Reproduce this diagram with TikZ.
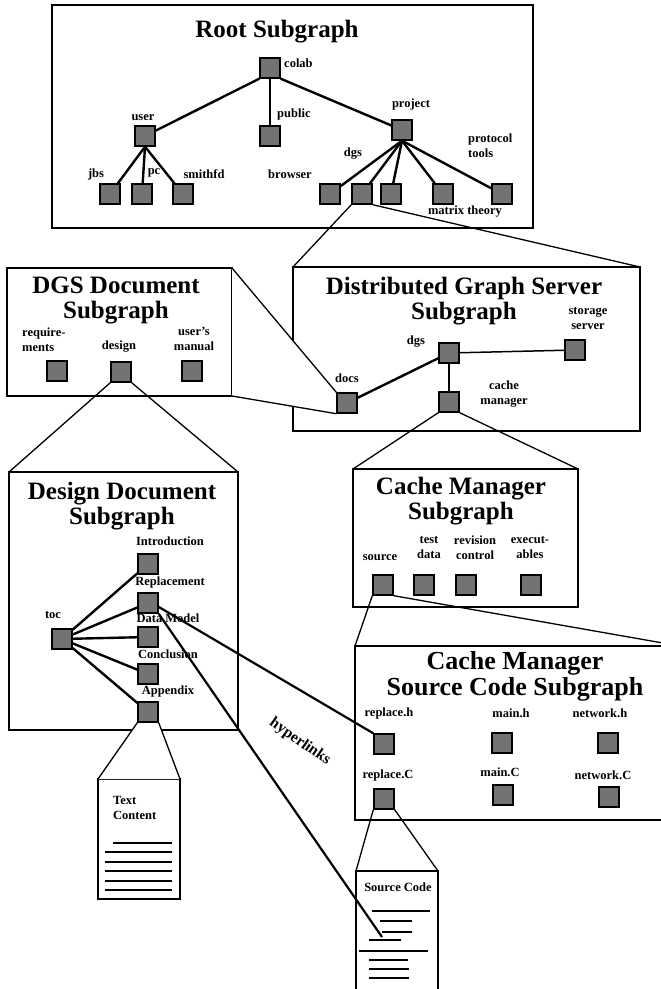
\documentclass[tikz,border=0pt]{standalone}
\usepackage{fontspec}
\setmainfont{Liberation Serif}

\pgfdeclarelayer{panels}
\pgfdeclarelayer{zoom}
\pgfsetlayers{panels,zoom,main}

\tikzset{
  panel/.style={draw, line width=1.4pt, fill=white, inner sep=0pt, outer sep=0pt},
  vertex/.style={draw, line width=1.4pt, fill=black!55, minimum size=20pt, inner sep=0pt},
  name tag/.style={font=\fontsize{12.5}{15}\selectfont\bfseries, inner sep=0pt, align=center},
  heading/.style={font=\fontsize{25}{25}\selectfont\bfseries, inner sep=0pt, align=center},
  branch/.style={line width=2.4pt},
  twig/.style={line width=1.5pt},
  zoomline/.style={line width=1.3pt},
  hyper/.style={line width=2.2pt},
  textline/.style={line width=1.6pt},
}

\begin{document}
\begin{tikzpicture}[x=1pt,y=-1pt]
\useasboundingbox (0,0) rectangle (661,989);

% the subgraph windows
\begin{pgfonlayer}{panels}
\node[panel, minimum width=481pt, minimum height=223pt] (rootsub) at (292.5,116.5) {};
\node[panel, minimum width=347pt, minimum height=164pt] (serversub) at (466.5,349) {};
\node[panel, minimum width=225pt, minimum height=128pt] (docsub) at (119.5,332) {};
\node[panel, minimum width=229pt, minimum height=258pt] (designsub) at (123.5,601) {};
\node[panel, minimum width=225pt, minimum height=138pt] (cachesub) at (465.5,538) {};
\node[panel, minimum width=325pt, minimum height=174pt] (sourcesub) at (517.5,733) {};
\node[panel, minimum width=82pt, minimum height=120pt] (textpage) at (139,839) {};
\node[panel, minimum width=82pt, minimum height=129pt] (codepage) at (397,935.5) {};
\end{pgfonlayer}

\node[heading] (roothead) at (277,32) {Root Subgraph};
\node[heading] (serverhead) at (464,301) {Distributed Graph Server\\Subgraph};
\node[heading] (dochead) at (116,300) {DGS Document\\Subgraph};
\node[heading] (designhead) at (122,506) {Design Document\\Subgraph};
\node[heading] (cachehead) at (461,501) {Cache Manager\\Subgraph};
\node[heading, font=\fontsize{26}{26}\selectfont\bfseries] (sourcehead) at (515,676) {Cache Manager\\Source Code Subgraph};

% vertices
\foreach \id/\x/\y in {colab/270/68, user/145/136, public/270/136, project/402/130,
    jbs/110/194, pc/142/194, smithfd/183/194, browser/330/194, rdgs/362/194,
    misc/391/194, matrix/443/194, protocol/502/194,
    sdgs/449/353, storage/575/350, docs/347/403, cache/449/402,
    req/57/371, design/121/372, manual/192/371,
    intro/148/564, repl/148/603, model/148/637, concl/148/674, appx/148/712, toc/62/639,
    source/383/585, testdata/424/585, revision/466/585, exec/531/585,
    replh/384/744, mainh/502/743, neth/608/743, replc/384/799, mainc/503/795, netc/609/797}
  \node[vertex] (\id) at (\x,\y) {};

% vertex names
\foreach \id/\x/\y/\txt in {user/143/118/user, project/411/104/project, jbs/96/174/jbs,
    pc/154/173/pc, smithfd/204/174/smithfd, browser/290/174/browser, rdgs/353/154/dgs,
    matrix/465/212/matrix theory,
    sdgs/416/342/dgs, storage/588/319/{storage\\server}, docs/347/378/docs,
    cache/504/394/{cache\\manager},
    design/119/347/design, manual/194/339/{user's\\manual},
    intro/170/541/Introduction, repl/170/582/Replacement, model/168/618/Data Model,
    concl/168/654/Conclusion, appx/168/691/Appendix, toc/53/615/toc,
    source/380/558/source, testdata/429/548/{test\\data}, revision/475/548/{revision\\control},
    exec/530/548/{execut-\\ables},
    replh/389/713/replace.h, mainh/511/713/main.h, neth/600/713/network.h,
    replc/388/775/replace.C, mainc/500/772/main.C, netc/603/775/network.C}
  \node[name tag] (\id-tag) at (\x,\y) {\txt};
\node[name tag, anchor=west] (colab-tag) at (284,63) {colab};
\node[name tag, anchor=west] (public-tag) at (277,114) {public};
\node[name tag, anchor=west, align=left] (protocol-tag) at (468,146) {protocol\\tools};
\node[name tag, anchor=west, align=left] (req-tag) at (22,340) {require-\\ments};

% tree edges
\draw[branch] (colab.south west) -- (user);
\draw[branch] (colab.south) -- (public);
\draw[branch] (colab.south east) -- (project);
\foreach \c in {jbs,pc,smithfd} \draw[branch] (user.south) -- (\c);
\foreach \c in {browser,rdgs,misc,matrix,protocol} \draw[branch] (project.south) -- (\c);
\draw[twig] (sdgs) -- (storage);
\draw[branch] (sdgs) -- (docs);
\draw[twig] (sdgs) -- (cache);
\foreach \c in {intro,repl,model,concl,appx} \draw[branch] (toc) -- (\c);

% page contents
\node[name tag, anchor=north west, align=left] (textcap) at (113,796) {Text\\Content};
\node[name tag] (codecap) at (398,887) {Source Code};
\foreach \y/\a in {843/113, 852/105, 862/105, 871/105, 881/105, 890/105}
  \draw[textline] (\a,\y) -- (172,\y);
\foreach \y/\a/\b in {911/372/430, 921/380/412, 932/382/412, 940/369/401,
    951/359/428, 960/369/408, 969/369/409, 978/369/409}
  \draw[textline] (\a,\y) -- (\b,\y);

% zoom cones from a vertex to its subgraph
\begin{pgfonlayer}{zoom}
\draw[zoomline] (rdgs.south west) -- (serversub.north west) (rdgs.south east) -- (serversub.north east);
\fill[white] (docsub.north east) -- (docs.north west) -- (docs.south west) -- (docsub.south east) -- cycle;
\draw[zoomline] (docsub.north east) -- (docs.north west) (docsub.south east) -- (docs.south west);
\draw[zoomline] (design.south west) -- (designsub.north west) (design.south east) -- (designsub.north east);
\draw[zoomline] (cache.south west) -- (cachesub.north west) (cache.south east) -- (cachesub.north east);
\draw[zoomline] (source.south west) -- (sourcesub.north west) (source.south east) -- (sourcesub.north east);
\fill[white] (appx.south west) -- (textpage.north west) -- (textpage.north east) -- (appx.south east) -- cycle;
\draw[zoomline] (appx.south west) -- (textpage.north west) (appx.south east) -- (textpage.north east);
\draw[zoomline] (replc.south west) -- (codepage.north west) (replc.south east) -- (codepage.north east);
\end{pgfonlayer}

% hyperlinks
\coordinate (codeline) at (382,937);
\draw[hyper] (repl.-20) -- (replh.north west);
\draw[hyper] (repl.south east) -- (codeline);
\node[name tag, font=\fontsize{15.5}{15.5}\selectfont\bfseries, rotate=-35] (hyper-tag) at (300,742) {hyperlinks};

\end{tikzpicture}
\end{document}
